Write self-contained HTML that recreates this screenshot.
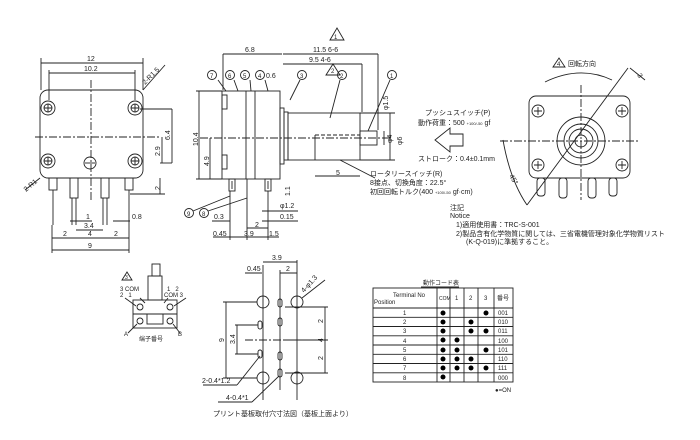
<!DOCTYPE html>
<html><head><meta charset="utf-8"><style>
html,body{margin:0;padding:0;background:#fff;}
svg{display:block;}
text{font-family:"Liberation Sans","Noto Sans CJK JP",sans-serif;fill:#222;}
</style></head><body>
<svg width="700" height="440" viewBox="0 0 700 440" xmlns="http://www.w3.org/2000/svg">
<g stroke="#222" stroke-width="0.9" fill="none">
<!-- LEFT VIEW -->
<rect x="40" y="90" width="103" height="88" rx="8"/>
<circle cx="48" cy="108" r="7"/><circle cx="135" cy="108" r="7"/>
<circle cx="48" cy="161" r="7"/><circle cx="135" cy="161" r="7"/>
<circle cx="48" cy="108" r="4"/><circle cx="135" cy="108" r="4"/>
<circle cx="48" cy="161" r="4"/><circle cx="135" cy="161" r="4"/>
<path d="M44 108h8M48 104v8M131 108h8M135 104v8M44 161h8M48 157v8M131 161h8M135 157v8"/>
<circle cx="90" cy="163" r="6"/><line x1="85" y1="163" x2="95" y2="163"/>
<line x1="35" y1="137" x2="160" y2="137" stroke-dasharray="8,2,2,2"/>
<line x1="91" y1="80" x2="91" y2="200" stroke-dasharray="8,2,2,2"/>
<rect x="49" y="178" width="8" height="12"/><rect x="70" y="178" width="8" height="20"/>
<rect x="101" y="178" width="8" height="20"/><rect x="125" y="178" width="8" height="12"/>
<line x1="53" y1="190" x2="53" y2="225"/><line x1="129" y1="190" x2="129" y2="225"/>
<line x1="72" y1="198" x2="72" y2="225"/><line x1="76" y1="198" x2="76" y2="225"/>
<line x1="103" y1="198" x2="103" y2="225"/><line x1="107" y1="198" x2="107" y2="225"/>
<line x1="41" y1="63" x2="143" y2="63"/><line x1="41" y1="58" x2="41" y2="90"/><line x1="143" y1="58" x2="143" y2="90"/>
<line x1="49" y1="73" x2="135" y2="73"/><line x1="49" y1="70" x2="49" y2="100"/><line x1="135" y1="70" x2="135" y2="100"/>
<line x1="143" y1="90" x2="165" y2="65"/><line x1="40" y1="178" x2="25" y2="190"/>
<line x1="172" y1="109" x2="172" y2="163"/><line x1="160" y1="163" x2="172" y2="163"/><line x1="140" y1="109" x2="172" y2="109"/>
<line x1="162" y1="137" x2="162" y2="163"/>
<line x1="160" y1="178" x2="160" y2="194"/><line x1="130" y1="194" x2="165" y2="194"/>
<line x1="52" y1="238" x2="129" y2="238"/><line x1="52" y1="250" x2="129" y2="250"/>
<line x1="70" y1="221" x2="92" y2="221"/><line x1="76" y1="230" x2="103" y2="230"/>
<line x1="113" y1="221" x2="130" y2="221"/>
<line x1="52" y1="225" x2="52" y2="253"/><line x1="129" y1="225" x2="129" y2="253"/>
</g>
<g font-size="7">
<text x="87" y="61">12</text><text x="84" y="71">10.2</text>
<text x="145" y="85" transform="rotate(-45 145 85)">2-R1.5</text>
<text x="26" y="192" transform="rotate(-40 26 192)">2-R1</text>
<text x="170" y="140" transform="rotate(-90 170 140)">6.4</text>
<text x="160" y="156" transform="rotate(-90 160 156)">2.9</text>
<text x="160" y="190" transform="rotate(-90 160 190)">2</text>
<text x="86" y="219">1</text><text x="84" y="228">3.4</text><text x="132" y="219">0.8</text>
<text x="63" y="236">2</text><text x="88" y="236">4</text><text x="114" y="236">2</text><text x="88" y="248">9</text>
</g>
<!-- SIDE VIEW -->
<g stroke="#222" stroke-width="0.9" fill="none">
<rect x="222" y="91" width="58" height="88"/>
<line x1="246" y1="91" x2="246" y2="179"/><line x1="255" y1="91" x2="255" y2="179"/>
<rect x="222" y="95" width="5" height="14"/><rect x="222" y="155" width="5" height="14"/>
<rect x="280" y="108" width="4" height="56"/><rect x="284" y="112" width="4" height="48"/>
<rect x="288" y="113" width="72" height="47"/>
<rect x="360" y="131" width="17" height="14"/>
<line x1="315" y1="135" x2="360" y2="135" stroke-dasharray="4,2"/>
<line x1="315" y1="135" x2="315" y2="160"/>
<line x1="200" y1="138" x2="390" y2="138" stroke-dasharray="8,2,2,2"/>
<rect x="229" y="179" width="6" height="12"/><rect x="265" y="179" width="6" height="12"/>
<line x1="232" y1="181" x2="232" y2="189"/><line x1="268" y1="181" x2="268" y2="189"/>
<line x1="230" y1="191" x2="230" y2="240"/><line x1="247" y1="179" x2="247" y2="240"/><line x1="268" y1="191" x2="268" y2="240"/>
<line x1="223" y1="54" x2="223" y2="90"/><line x1="223" y1="54" x2="282" y2="54"/>
<line x1="283" y1="54" x2="378" y2="54"/><line x1="378" y1="54" x2="378" y2="130"/>
<line x1="283" y1="64" x2="362" y2="64"/><line x1="362" y1="64" x2="362" y2="112"/>
<line x1="196" y1="91" x2="222" y2="91"/><line x1="196" y1="179" x2="222" y2="179"/>
<line x1="199" y1="91" x2="199" y2="179"/><line x1="210" y1="138" x2="210" y2="179"/>
<line x1="315" y1="176" x2="360" y2="176"/><line x1="390" y1="113" x2="390" y2="160"/><line x1="384" y1="131" x2="384" y2="145"/>
<line x1="360" y1="160" x2="395" y2="160"/><line x1="360" y1="113" x2="395" y2="113"/>
<line x1="290" y1="100" x2="300" y2="80"/><line x1="330" y1="118" x2="340" y2="80"/><line x1="368" y1="131" x2="390" y2="80"/>
<line x1="226" y1="91" x2="218" y2="80"/><line x1="238" y1="91" x2="234" y2="80"/><line x1="251" y1="91" x2="250" y2="80"/><line x1="268" y1="91" x2="265" y2="80"/>
<circle cx="212" cy="75" r="4.5"/><circle cx="230" cy="75" r="4.5"/><circle cx="245" cy="75" r="4.5"/><circle cx="260" cy="75" r="4.5"/>
<circle cx="302" cy="75" r="4.5"/><circle cx="342" cy="75" r="4.5"/><circle cx="392" cy="75" r="4.5"/>
<circle cx="189" cy="213" r="4.5"/><circle cx="204" cy="213" r="4.5"/>
<line x1="193" y1="211" x2="230" y2="196"/><line x1="208" y1="211" x2="247" y2="198"/>
<line x1="340" y1="160" x2="375" y2="178"/>
<line x1="212" y1="221" x2="230" y2="221"/><line x1="262" y1="211" x2="298" y2="211"/><line x1="262" y1="221" x2="298" y2="221"/>
<line x1="213" y1="237" x2="230" y2="237"/><line x1="230" y1="237" x2="279" y2="237"/>
<line x1="247" y1="228" x2="268" y2="228"/>
<path d="M330 40 L337 28 L344 40 Z"/><path d="M326 75 L333 64 L340 75 Z"/>
<path d="M435 140 L450 128 L450 134 L463 134 L463 146 L450 146 L450 152 Z"/>
</g>
<g font-size="7">
<text x="245" y="52">6.8</text><text x="313" y="52">11.5 6-6</text><text x="309" y="62">9.5 4-6</text>
<text x="334" y="39" font-size="6">1</text><text x="331" y="73" font-size="6">2</text>
<text x="210" y="78" font-size="6">7</text><text x="228" y="78" font-size="6">6</text><text x="243" y="78" font-size="6">5</text><text x="258" y="78" font-size="6">4</text>
<text x="266" y="78">0.6</text><text x="300" y="78" font-size="6">3</text><text x="340" y="78" font-size="6">2</text><text x="390" y="78" font-size="6">1</text>
<text x="187" y="216" font-size="6">9</text><text x="202" y="216" font-size="6">8</text>
<text x="198" y="146" transform="rotate(-90 198 146)">10.4</text>
<text x="209" y="166" transform="rotate(-90 209 166)">4.9</text>
<text x="290" y="196" transform="rotate(-90 290 196)">1.1</text>
<text x="388" y="110" transform="rotate(-90 388 110)">φ1.5</text>
<text x="402" y="145" transform="rotate(-90 402 145)">φ6</text>
<text x="392" y="143" transform="rotate(-90 392 143)">φ4</text>
<text x="336" y="175">5</text>
<text x="280" y="208">φ1.2</text><text x="280" y="219">0.15</text>
<text x="214" y="219">0.3</text><text x="213" y="236">0.45</text><text x="244" y="236">3.9</text><text x="255" y="227">2</text><text x="269" y="236">1.5</text>
</g>
<g font-size="7">
<text x="425" y="115">プッシュスイッチ(P)</text>
<text x="418" y="125">動作荷重：500 <tspan font-size="4">+100/-50</tspan> gf</text>
<text x="418" y="161">ストローク：0.4±0.1mm</text>
<text x="370" y="176">ロータリースイッチ(R)</text>
<text x="370" y="185">8接点、切換角度：22.5°</text>
<text x="370" y="194">初回回転トルク(400 <tspan font-size="4">+100/-50</tspan> gf·cm)</text>
<text x="450" y="210">注記</text><text x="450" y="218">Notice</text>
<text x="456" y="227">1)適用使用書：TRC-S-001</text>
<text x="456" y="236">2)製品含有化学物質に関しては、三省電機管理対象化学物質リスト</text>
<text x="466" y="244">(K-Q-019)に準拠すること。</text>
</g>
<!-- RIGHT VIEW -->
<g stroke="#222" stroke-width="0.9" fill="none">
<rect x="529" y="96" width="101" height="82" rx="7"/>
<circle cx="538" cy="111" r="6"/><circle cx="622" cy="111" r="6"/><circle cx="538" cy="165" r="6"/><circle cx="622" cy="165" r="6"/>
<path d="M534 111h8M538 107v8M618 111h8M622 107v8M534 165h8M538 161v8M618 165h8M622 161v8"/>
<circle cx="581" cy="141" r="24"/><circle cx="581" cy="141" r="17"/><circle cx="581" cy="141" r="12"/><circle cx="581" cy="141" r="6"/>
<line x1="500" y1="141" x2="640" y2="141" stroke-dasharray="8,2,2,2"/>
<line x1="581" y1="85" x2="581" y2="200" stroke-dasharray="8,2,2,2"/>
<line x1="527" y1="205" x2="628" y2="68"/>
<line x1="630" y1="68" x2="645" y2="80"/>
<path d="M503 140 Q510 180 527 205"/>
<path d="M545 82 Q580 65 612 80"/>
<rect x="537" y="178" width="8" height="18" rx="3"/><rect x="559" y="178" width="8" height="20" rx="3"/>
<rect x="588" y="178" width="8" height="20" rx="3"/><rect x="609" y="178" width="8" height="18" rx="3"/>
<path d="M553 67 L559 58 L565 67 Z"/>
</g>
<g font-size="7"><text x="557" y="66" font-size="6">4</text><text x="568" y="66">回転方向</text>
<text x="509" y="176" transform="rotate(60 509 176)">45°</text><text x="637" y="75" transform="rotate(60 637 75)">3</text></g>
<!-- TERMINAL -->
<g stroke="#222" stroke-width="0.9" fill="none">
<rect x="152" y="264" width="8" height="12"/><rect x="148" y="276" width="14" height="24"/>
<rect x="133" y="300" width="44" height="28"/>
<line x1="133" y1="314" x2="177" y2="314"/><rect x="147" y="314" width="16" height="10"/>
<circle cx="140" cy="307" r="3"/><circle cx="170" cy="307" r="3"/><circle cx="140" cy="321" r="3"/><circle cx="170" cy="321" r="3"/>
<path d="M122 280 L127 272 L132 280 Z"/>
<line x1="125" y1="298" x2="136" y2="306"/><line x1="186" y1="298" x2="174" y2="306"/>
<line x1="140" y1="298" x2="145" y2="303"/><line x1="168" y1="298" x2="164" y2="303"/>
<line x1="128" y1="333" x2="137" y2="324"/><line x1="180" y1="333" x2="173" y2="324"/>
</g>
<g font-size="6"><text x="125" y="279" font-size="5">3</text>
<text x="120" y="291">3 COM</text><text x="120" y="297">2&#160;&#160;&#160;1</text>
<text x="167" y="291">1&#160;&#160;&#160;2</text><text x="164" y="297">COM 3</text>
<text x="124" y="336">A</text><text x="178" y="336">B</text><text x="139" y="341">端子番号</text></g>
<!-- PCB -->
<g stroke="#222" stroke-width="0.9" fill="none">
<circle cx="263" cy="302" r="6"/><circle cx="297" cy="302" r="6"/><circle cx="263" cy="378" r="6"/><circle cx="297" cy="378" r="6"/>
<rect x="278" y="299" width="4" height="8" rx="2"/><rect x="278" y="318" width="4" height="8" rx="2"/>
<rect x="278" y="352" width="4" height="8" rx="2"/><rect x="278" y="369" width="4" height="8" rx="2"/>
<rect x="258" y="321" width="4" height="8" rx="2"/><rect x="258" y="350" width="4" height="8" rx="2"/>
<line x1="263" y1="265" x2="263" y2="400"/><line x1="297" y1="260" x2="297" y2="400"/><line x1="280" y1="270" x2="280" y2="390"/>
<line x1="263" y1="262" x2="297" y2="262"/><line x1="245" y1="273" x2="262" y2="273"/><line x1="280" y1="273" x2="297" y2="273"/>
<line x1="223" y1="302" x2="257" y2="302"/><line x1="223" y1="378" x2="257" y2="378"/><line x1="226" y1="302" x2="226" y2="378"/>
<line x1="235" y1="325" x2="258" y2="325"/><line x1="235" y1="354" x2="258" y2="354"/><line x1="237" y1="325" x2="237" y2="354"/>
<line x1="285" y1="307" x2="328" y2="307"/><line x1="285" y1="373" x2="328" y2="373"/><line x1="285" y1="340" x2="328" y2="340"/><line x1="325" y1="307" x2="325" y2="373"/>
<line x1="245" y1="340" x2="315" y2="340" stroke-dasharray="8,2,2,2"/>
<line x1="302" y1="298" x2="325" y2="280"/>
<line x1="203" y1="385" x2="237" y2="385"/><line x1="237" y1="385" x2="260" y2="356"/>
<line x1="218" y1="402" x2="252" y2="402"/><line x1="252" y1="402" x2="279" y2="376"/>
</g>
<g font-size="7"><text x="272" y="260">3.9</text><text x="247" y="271">0.45</text><text x="286" y="271">2</text>
<text x="304" y="293" transform="rotate(-48 304 293)">4-φ1.3</text>
<text x="224" y="342" transform="rotate(-90 224 342)">9</text><text x="235" y="344" transform="rotate(-90 235 344)">3.4</text>
<text x="323" y="323" transform="rotate(-90 323 323)">2</text><text x="323" y="342" transform="rotate(-90 323 342)">4</text><text x="323" y="360" transform="rotate(-90 323 360)">2</text>
<text x="202" y="383">2-0.4*1.2</text><text x="226" y="400">4-0.4*1</text>
<text x="213" y="416">プリント基板取付穴寸法図（基板上面より）</text></g>
<!-- TABLE -->
<g stroke="#222" stroke-width="0.9" fill="none">
<rect x="373" y="288" width="140" height="94"/>
<line x1="373" y1="308" x2="513" y2="308"/>
<line x1="437" y1="288" x2="437" y2="382"/><line x1="450" y1="288" x2="450" y2="382"/><line x1="464" y1="288" x2="464" y2="382"/><line x1="478" y1="288" x2="478" y2="382"/><line x1="494" y1="288" x2="494" y2="382"/>
<line x1="373" y1="317.3" x2="513" y2="317.3"/><line x1="373" y1="326.5" x2="513" y2="326.5"/><line x1="373" y1="335.8" x2="513" y2="335.8"/><line x1="373" y1="345" x2="513" y2="345"/><line x1="373" y1="354.3" x2="513" y2="354.3"/><line x1="373" y1="363.5" x2="513" y2="363.5"/><line x1="373" y1="372.8" x2="513" y2="372.8"/>
<line x1="421" y1="287" x2="459" y2="287"/>
</g>
<g font-size="6"><text x="423" y="285">動作コード表</text>
<text x="393" y="297">Terminal No</text><text x="374" y="304">Position</text>
<text x="439" y="300" font-size="5">COM</text><text x="455" y="300">1</text><text x="469" y="300">2</text><text x="484" y="300">3</text><text x="497" y="300">番号</text>
<text x="403" y="315">1</text><text x="403" y="324">2</text><text x="403" y="333">3</text><text x="403" y="343">4</text><text x="403" y="352">5</text><text x="403" y="361">6</text><text x="403" y="370">7</text><text x="403" y="380">8</text>
<text x="498" y="315">001</text><text x="498" y="324">010</text><text x="498" y="333">011</text><text x="498" y="343">100</text><text x="498" y="352">101</text><text x="498" y="361">110</text><text x="498" y="370">111</text><text x="498" y="380">000</text>
<text x="495" y="392">●=ON</text></g>
<g fill="#000">
<circle cx="443" cy="313" r="2.5"/><circle cx="486" cy="313" r="2.5"/>
<circle cx="443" cy="322" r="2.5"/><circle cx="471" cy="322" r="2.5"/>
<circle cx="443" cy="331" r="2.5"/><circle cx="471" cy="331" r="2.5"/><circle cx="486" cy="331" r="2.5"/>
<circle cx="443" cy="340" r="2.5"/><circle cx="457" cy="340" r="2.5"/>
<circle cx="443" cy="350" r="2.5"/><circle cx="457" cy="350" r="2.5"/><circle cx="486" cy="350" r="2.5"/>
<circle cx="443" cy="359" r="2.5"/><circle cx="457" cy="359" r="2.5"/><circle cx="471" cy="359" r="2.5"/>
<circle cx="443" cy="368" r="2.5"/><circle cx="457" cy="368" r="2.5"/><circle cx="471" cy="368" r="2.5"/><circle cx="486" cy="368" r="2.5"/>
<circle cx="443" cy="377" r="2.5"/>
</g>
</svg>
</body></html>
